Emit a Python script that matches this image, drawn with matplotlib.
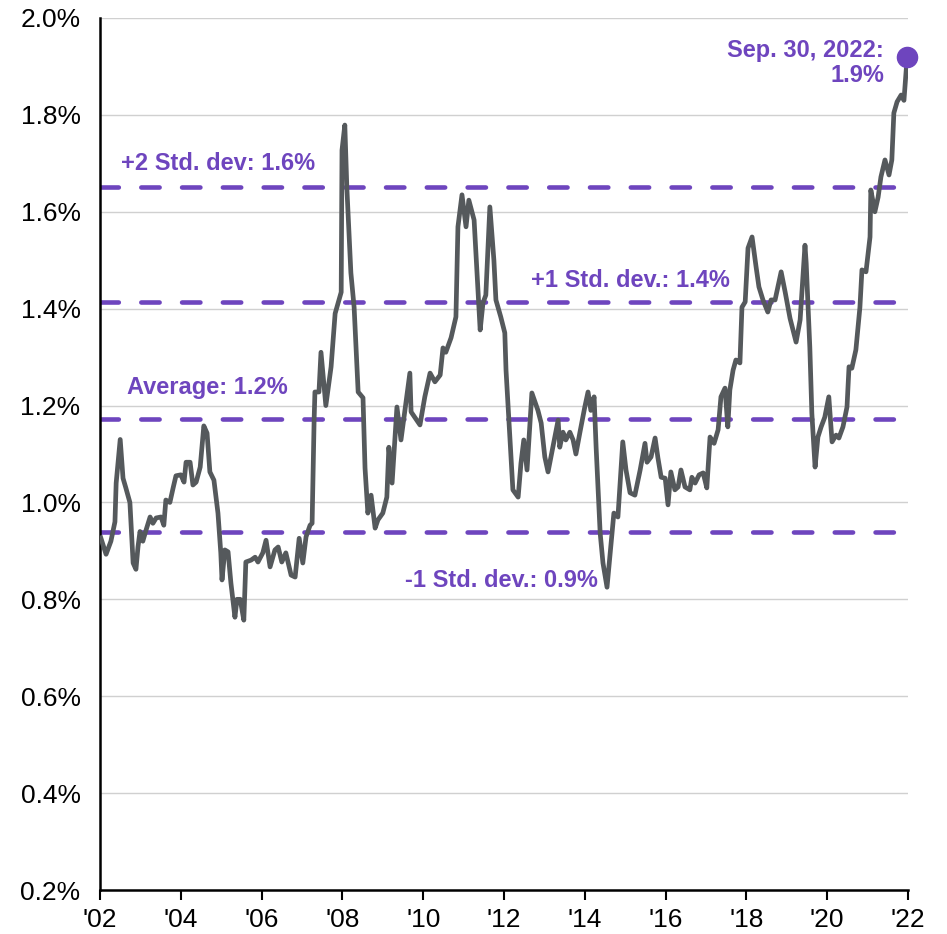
import matplotlib
matplotlib.use("Agg")
import matplotlib.pyplot as plt
from matplotlib.ticker import FixedLocator

plt.rcParams['font.family'] = ['Liberation Sans', 'DejaVu Sans']

# ---- data (decimal year position, value in %) ----
years = [2002.02, 2002.15, 2002.27, 2002.37, 2002.40, 2002.50, 2002.57, 2002.64, 2002.74, 2002.82,
         2002.89, 2002.94, 2002.99, 2003.06, 2003.14, 2003.24, 2003.31, 2003.39, 2003.51, 2003.58,
         2003.63, 2003.73, 2003.81, 2003.88, 2004.00, 2004.08, 2004.13, 2004.23, 2004.30, 2004.38,
         2004.48, 2004.57, 2004.65, 2004.72, 2004.82, 2004.92, 2004.99, 2005.02, 2005.09, 2005.17,
         2005.24, 2005.34, 2005.39, 2005.47, 2005.56, 2005.61, 2005.74, 2005.84, 2005.91, 2006.03,
         2006.11, 2006.21, 2006.33, 2006.41, 2006.50, 2006.60, 2006.73, 2006.83, 2006.93, 2007.02,
         2007.10, 2007.20, 2007.25, 2007.30, 2007.32, 2007.42, 2007.47, 2007.59, 2007.72, 2007.82,
         2007.97, 2007.99, 2008.06, 2008.11, 2008.21, 2008.29, 2008.39, 2008.51, 2008.56, 2008.63,
         2008.71, 2008.81, 2008.88, 2009.00, 2009.10, 2009.15, 2009.23, 2009.35, 2009.45, 2009.67,
         2009.70, 2009.92, 2010.04, 2010.17, 2010.29, 2010.42, 2010.49, 2010.56, 2010.69, 2010.81,
         2010.86, 2010.96, 2011.06, 2011.13, 2011.26, 2011.31, 2011.41, 2011.48, 2011.55, 2011.65,
         2011.75, 2011.80, 2011.92, 2012.02, 2012.05, 2012.12, 2012.22, 2012.35, 2012.42, 2012.49,
         2012.57, 2012.69, 2012.84, 2012.92, 2013.01, 2013.09, 2013.21, 2013.34, 2013.38, 2013.46,
         2013.53, 2013.63, 2013.71, 2013.78, 2013.88, 2014.00, 2014.08, 2014.15, 2014.23, 2014.28,
         2014.38, 2014.45, 2014.55, 2014.65, 2014.72, 2014.82, 2014.94, 2015.02, 2015.12, 2015.24,
         2015.37, 2015.49, 2015.54, 2015.64, 2015.74, 2015.81, 2015.89, 2015.99, 2016.06, 2016.13,
         2016.23, 2016.31, 2016.38, 2016.48, 2016.60, 2016.65, 2016.73, 2016.83, 2016.93, 2017.02,
         2017.10, 2017.20, 2017.30, 2017.37, 2017.47, 2017.54, 2017.59, 2017.67, 2017.74, 2017.84,
         2017.89, 2017.97, 2018.04, 2018.14, 2018.24, 2018.31, 2018.41, 2018.53, 2018.61, 2018.71,
         2018.86, 2018.96, 2019.08, 2019.23, 2019.33, 2019.45, 2019.48, 2019.57, 2019.62, 2019.70,
         2019.77, 2019.85, 2019.94, 2020.04, 2020.12, 2020.22, 2020.29, 2020.39, 2020.49, 2020.54,
         2020.61, 2020.71, 2020.81, 2020.86, 2020.96, 2021.06, 2021.08, 2021.18, 2021.26, 2021.33,
         2021.43, 2021.53, 2021.60, 2021.65, 2021.73, 2021.83, 2021.90, 2021.98]
ratio = [0.927, 0.893, 0.920, 0.960, 1.040, 1.130, 1.050, 1.030, 1.000, 0.875,
         0.862, 0.908, 0.940, 0.920, 0.943, 0.970, 0.957, 0.968, 0.970, 0.953,
         1.005, 1.000, 1.030, 1.055, 1.057, 1.042, 1.083, 1.083, 1.036, 1.042,
         1.073, 1.158, 1.143, 1.063, 1.046, 0.978, 0.896, 0.840, 0.902, 0.898,
         0.834, 0.763, 0.800, 0.800, 0.757, 0.877, 0.881, 0.887, 0.877, 0.896,
         0.922, 0.867, 0.902, 0.908, 0.877, 0.896, 0.850, 0.846, 0.926, 0.875,
         0.929, 0.953, 0.957, 1.170, 1.228, 1.228, 1.310, 1.200, 1.280, 1.390,
         1.434, 1.727, 1.779, 1.650, 1.474, 1.403, 1.228, 1.216, 1.071, 0.978,
         1.015, 0.947, 0.964, 0.978, 1.011, 1.114, 1.040, 1.197, 1.129, 1.267,
         1.187, 1.160, 1.218, 1.267, 1.249, 1.263, 1.319, 1.310, 1.340, 1.383,
         1.569, 1.635, 1.569, 1.624, 1.583, 1.507, 1.356, 1.412, 1.428, 1.610,
         1.500, 1.418, 1.383, 1.350, 1.273, 1.170, 1.026, 1.011, 1.081, 1.129,
         1.067, 1.226, 1.190, 1.164, 1.094, 1.063, 1.114, 1.170, 1.114, 1.145,
         1.129, 1.145, 1.129, 1.100, 1.145, 1.197, 1.228, 1.190, 1.218, 1.114,
         0.937, 0.875, 0.825, 0.916, 0.978, 0.970, 1.125, 1.067, 1.020, 1.015,
         1.067, 1.122, 1.083, 1.094, 1.133, 1.092, 1.052, 1.050, 0.995, 1.063,
         1.026, 1.032, 1.067, 1.032, 1.026, 1.052, 1.040, 1.057, 1.061, 1.030,
         1.135, 1.122, 1.150, 1.218, 1.236, 1.156, 1.232, 1.273, 1.294, 1.288,
         1.403, 1.414, 1.525, 1.548, 1.486, 1.445, 1.418, 1.393, 1.418, 1.418,
         1.476, 1.434, 1.380, 1.331, 1.377, 1.531, 1.494, 1.320, 1.184, 1.073,
         1.135, 1.156, 1.176, 1.218, 1.125, 1.139, 1.133, 1.156, 1.197, 1.280,
         1.277, 1.315, 1.403, 1.480, 1.476, 1.548, 1.645, 1.600, 1.630, 1.672,
         1.707, 1.676, 1.707, 1.804, 1.827, 1.841, 1.830, 1.920]

level_values = [1.652, 1.414, 1.173, 0.938]
level_labels = ["+2 Std. dev: 1.6%", "+1 Std. dev.: 1.4%", "Average: 1.2%", "-1 Std. dev.: 0.9%"]
label_x = [2004.92, 2015.12, 2004.65, 2011.93]
label_y = [1.700, 1.459, 1.238, 0.838]

last_label = "Sep. 30, 2022:\n1.9%"

x_ticks = [2002, 2004, 2006, 2008, 2010, 2012, 2014, 2016, 2018, 2020, 2022]
x_ticklabels = ["'02", "'04", "'06", "'08", "'10", "'12", "'14", "'16", "'18", "'20", "'22"]
y_ticks = [0.2, 0.4, 0.6, 0.8, 1.0, 1.2, 1.4, 1.6, 1.8, 2.0]
y_ticklabels = ["0.2%", "0.4%", "0.6%", "0.8%", "1.0%", "1.2%", "1.4%", "1.6%", "1.8%", "2.0%"]

# ---- style ----
PURPLE = "#6E45BE"
LINE = "#55595C"
W, H = 947, 934
fig = plt.figure(figsize=(W / 100, H / 100), dpi=100)
ax = fig.add_axes([100 / W, (H - 890) / H, (908 - 100) / W, (890 - 18) / H])

ax.set_xlim(2002, 2022)
ax.set_ylim(0.2, 2.0)

ax.grid(axis="y", color="#D0D0D0", linewidth=1.0, zorder=0)
ax.set_axisbelow(True)

for v in level_values:
    ax.axhline(v, color=PURPLE, linewidth=3.3, linestyle=(0, (4.0, 4.9)),
               dash_capstyle="round", zorder=2)

ax.plot(years, ratio, color=LINE, linewidth=3.4, solid_joinstyle="round", zorder=3)
ax.plot([years[-1]], [ratio[-1]], "o", color=PURPLE, markersize=14.5, zorder=4, clip_on=False)

for t, x, y in zip(level_labels, label_x, label_y):
    ax.text(x, y, t, color=PURPLE, fontsize=17, fontweight="bold", ha="center", va="center")

ax.text(2021.41, 1.907, last_label, color=PURPLE, fontsize=17, fontweight="bold",
        ha="right", va="center", linespacing=1.1)

ax.xaxis.set_major_locator(FixedLocator(x_ticks))
ax.set_xticklabels(x_ticklabels)
ax.yaxis.set_major_locator(FixedLocator(y_ticks))
ax.set_yticklabels(y_ticklabels)

for s in ["top", "right"]:
    ax.spines[s].set_visible(False)
for s in ["left", "bottom"]:
    ax.spines[s].set_linewidth(1.8)
    ax.spines[s].set_color("black")

ax.tick_params(axis="x", direction="out", length=7, width=1.5, labelsize=19, pad=6)
ax.tick_params(axis="y", length=0, labelsize=19, pad=14)

fig.savefig("out.png", dpi=100)
